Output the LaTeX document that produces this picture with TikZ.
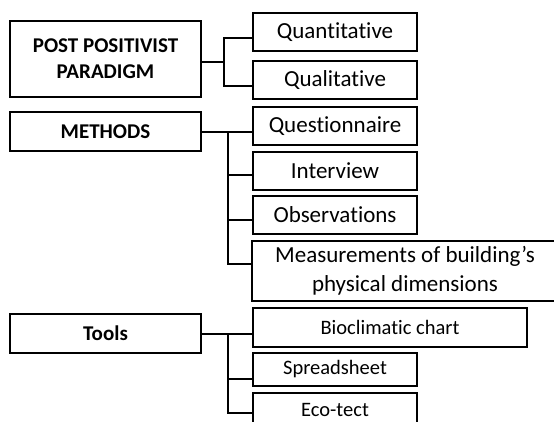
\documentclass[tikz,border=0pt]{standalone}
\usepackage{fontspec}
\setmainfont{Carlito}[Ligatures=NoCommon]
\usetikzlibrary{calc,positioning}

\begin{document}
\begin{tikzpicture}[x=1pt,y=-1pt,
    box/.style={draw,line width=2pt,align=center,inner sep=0pt},
    headbox/.style={box,minimum width=191pt,minimum height=39pt,font=\fontsize{21}{26}\selectfont\bfseries},
    itembox/.style={box,minimum width=164pt,minimum height=38pt,font=\fontsize{23}{29}\selectfont},
    toolbox/.style={box,minimum width=164pt,minimum height=33pt,font=\fontsize{20.5}{25}\selectfont},
    link/.style={line width=2pt}]
    \useasboundingbox (0,0) rectangle (554,421);

    % paradigm
    \node[headbox,minimum height=76pt] (post) at (105.5,59) {POST POSITIVIST\\PARADIGM};
    \node[itembox] (quant) at (335,32) {Quantitative};
    \node[itembox] (qual) at (335,80) {Qualitative};
    \coordinate (pj) at (224,62);
    \draw[link] ([yshift=-3pt]post.east) -- (pj);
    \draw[link] ([yshift=-6pt]quant.west) -| (pj);
    \draw[link] ([yshift=-6pt]qual.west) -| (pj);

    % methods
    \node[headbox] (methods) at (105.5,131.5) {METHODS};
    \node[itembox] (quest) at (335,126) {Questionnaire};
    \node[itembox] (interview) at (335,171) {Interview};
    \node[itembox] (obs) at (335,215) {Observations};
    \node[itembox,minimum width=306pt,minimum height=60pt] (meas) at (405,271)
      {Measurements of building’s\\physical dimensions};
    \coordinate (mj) at (228,131.5);
    \draw[link] (methods.east) -- (methods.east -| quest.west);
    \draw[link] ([yshift=-4pt]interview.west) -| (mj);
    \draw[link] ([yshift=-5pt]obs.west) -| (mj);
    \draw[link] ([yshift=7pt]meas.west) -| (mj);

    % tools
    \node[headbox] (tools) at (105.5,333.5) {Tools};
    \node[toolbox,minimum width=274pt,minimum height=39pt] (bio) at (390,327.5) {Bioclimatic chart};
    \node[toolbox] (spread) at (335,369.5) {Spreadsheet};
    \node[toolbox] (eco) at (335,409.5) {Eco-tect};
    \coordinate (tj) at (228,333.5);
    \draw[link] (tools.east) -- (tools.east -| bio.west);
    \draw[link] ([yshift=-9.5pt]spread.west) -| (tj);
    \draw[link] ([yshift=-3.5pt]eco.west) -| (tj);
  \end{tikzpicture}
\end{document}
